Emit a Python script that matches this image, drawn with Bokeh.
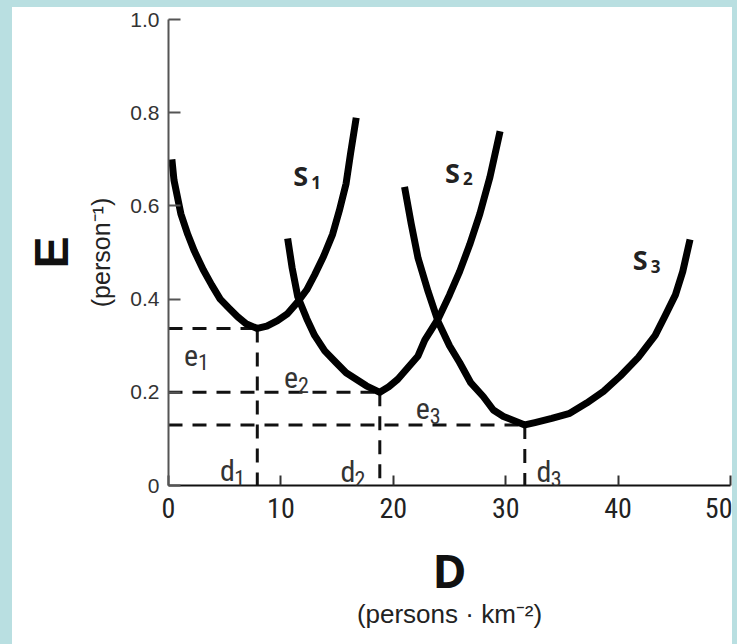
from bokeh.plotting import figure
from bokeh.models import Range1d, FixedTicker, Label, Title
from bokeh.embed import file_html
from bokeh.resources import INLINE

# ---- data ----
s1_d = [0.3, 0.49, 1.1, 1.71, 2.3, 3.09, 3.85, 4.6, 5.4, 6.15, 6.9, 7.9, 8.75, 9.7,
        10.6, 11.5, 12.3, 13.0, 13.8, 14.6, 15.2, 15.8, 16.2, 16.7]
s1_e = [0.70, 0.655, 0.583, 0.539, 0.503, 0.463, 0.43, 0.40, 0.38, 0.362, 0.347, 0.337,
        0.342, 0.354, 0.369, 0.394, 0.42, 0.452, 0.492, 0.539, 0.59, 0.648, 0.713, 0.789]

s2_d = [10.6, 11.0, 11.5, 12.3, 13.0, 13.9, 14.9, 15.8, 16.7, 17.6, 18.8, 19.6, 20.4,
        22.2, 22.8, 24.0, 25.0, 25.9, 26.8, 27.7, 28.6, 29.5]
s2_e = [0.53, 0.467, 0.405, 0.358, 0.322, 0.289, 0.264, 0.242, 0.228, 0.214, 0.20, 0.212,
        0.228, 0.278, 0.312, 0.358, 0.409, 0.459, 0.517, 0.583, 0.662, 0.76]

s3_d = [21.0, 21.6, 22.2, 23.1, 24.0, 25.0, 25.9, 26.9, 28.0, 28.9, 29.8, 31.7, 32.6,
        34.1, 35.7, 37.2, 38.7, 40.2, 41.8, 43.3, 44.2, 45.1, 45.75, 46.4]
s3_e = [0.641, 0.561, 0.488, 0.416, 0.351, 0.30, 0.264, 0.22, 0.191, 0.162, 0.148, 0.13,
        0.135, 0.144, 0.155, 0.177, 0.202, 0.235, 0.275, 0.322, 0.365, 0.409, 0.459, 0.528]

opt_d = [7.9, 18.8, 31.7]      # d1, d2, d3
opt_e = [0.337, 0.20, 0.13]    # e1, e2, e3

x_ticks = [0, 10, 20, 30, 40, 50]
y_ticks = [0, 0.2, 0.4, 0.6, 0.8, 1.0]
y_tick_labels = ["0", "0.2", "0.4", "0.6", "0.8", "1.0"]

curve_names = ["S", "S", "S"]
curve_subs = ["1", "2", "3"]

NARROW = "Liberation Sans Narrow, Roboto Condensed, Liberation Sans"
REG = "Liberation Sans, Open Sans"
BOLD = "Open Sans, Liberation Sans"
BLUE = "#b9dfe1"

p = figure(width=720, height=637, output_backend="svg", toolbar_location=None,
           x_range=Range1d(0, 50), y_range=Range1d(0, 1.0),
           min_border_left=156, min_border_right=19, min_border_top=12,
           min_border_bottom=166)
p.styles = {"box-sizing": "content-box",
            "border-left": "12px solid " + BLUE, "border-top": "7px solid " + BLUE,
            "border-right": "5px solid " + BLUE}
p.outline_line_color = None
p.grid.visible = False
p.background_fill_color = "white"
p.border_fill_color = "white"

# x axis
xa = p.xaxis[0]
xa.ticker = FixedTicker(ticks=x_ticks)
xa.axis_line_color = "#111111"
xa.axis_line_width = 2
xa.major_tick_in = 10
xa.major_tick_out = 0
xa.major_tick_line_width = 2
xa.major_tick_line_color = "#333333"
xa.minor_tick_line_color = None
xa.major_label_text_font = NARROW
xa.major_label_text_font_size = "28px"
xa.major_label_text_color = "#222222"
xa.major_label_standoff = 12
xa.axis_label = "D"
xa.axis_label_text_font = BOLD
xa.axis_label_text_font_size = "46px"
xa.axis_label_text_font_style = "bold"
xa.axis_label_text_color = "#111111"
xa.axis_label_standoff = 18

# y axis
ya = p.yaxis[0]
ya.ticker = FixedTicker(ticks=y_ticks)
ya.major_label_overrides = {v: s for v, s in zip(y_ticks, y_tick_labels)}
ya.axis_line_color = "#555555"
ya.axis_line_width = 2
ya.major_tick_in = 12
ya.major_tick_out = 0
ya.major_tick_line_width = 2
ya.major_tick_line_color = "#555555"
ya.minor_tick_line_color = None
ya.major_label_text_font = REG
ya.major_label_text_font_size = "21px"
ya.major_label_text_color = "#333333"
ya.major_label_standoff = 9
ya.axis_label = "(person\u207b\u00b9)"
ya.axis_label_text_font = REG
ya.axis_label_text_font_size = "25px"
ya.axis_label_text_font_style = "normal"
ya.axis_label_text_color = "#222222"
ya.axis_label_standoff = 12

p.add_layout(Title(text="(persons \u00b7 km\u207b\u00b2)", align="center",
                   text_font=REG, text_font_size="26px", text_font_style="normal",
                   text_color="#222222", standoff=-13), "below")
p.add_layout(Title(text="E", align="center", text_font="Liberation Sans",
                   text_font_size="48px", text_font_style="bold",
                   text_color="#111111", standoff=14), "left")

# dashed guides
p.segment(x0=[0] * 3, y0=opt_e, x1=opt_d, y1=opt_e, line_color="#111111",
          line_width=3, line_dash="14 10")
p.segment(x0=opt_d, y0=opt_e, x1=opt_d, y1=[0] * 3, line_color="#111111",
          line_width=3, line_dash="14 10")

# curves
for xs, ys in [(s1_d, s1_e), (s2_d, s2_e), (s3_d, s3_e)]:
    p.line(xs, ys, line_color="black", line_width=7, line_join="round")

def lab(x, y, text, font, size, style="normal", color="#222222"):
    p.add_layout(Label(x=x, y=y, text=text, text_font=font, text_font_size=size,
                       text_font_style=style, text_color=color,
                       text_align="left", text_baseline="alphabetic"))

# curve labels S1, S2, S3
s_pos = [(11.1, 0.665), (24.6, 0.672), (41.3, 0.485)]
for (x, y), nm, sb in zip(s_pos, curve_names, curve_subs):
    lab(x, y, nm, BOLD, "27px", "bold", "#222222")
    lab(x + 1.6, y - 0.014, sb, BOLD, "17px", "bold", "#222222")

# e labels
e_pos = [(1.38, 0.280), (10.28, 0.232), (22.0, 0.165)]
for (x, y), sb in zip(e_pos, curve_subs):
    lab(x, y, "e", NARROW, "30px", color="#333333")
    lab(x + 1.25, y - 0.016, sb, NARROW, "22px", color="#333333")

# d labels
d_pos = [(4.59, 0.032), (15.3, 0.030), (32.75, 0.030)]
for (x, y), sb in zip(d_pos, curve_subs):
    lab(x, y, "d", NARROW, "30px", color="#333333")
    lab(x + 1.25, y - 0.016, sb, NARROW, "22px", color="#333333")

open("out.html", "w").write(file_html(p, INLINE))
